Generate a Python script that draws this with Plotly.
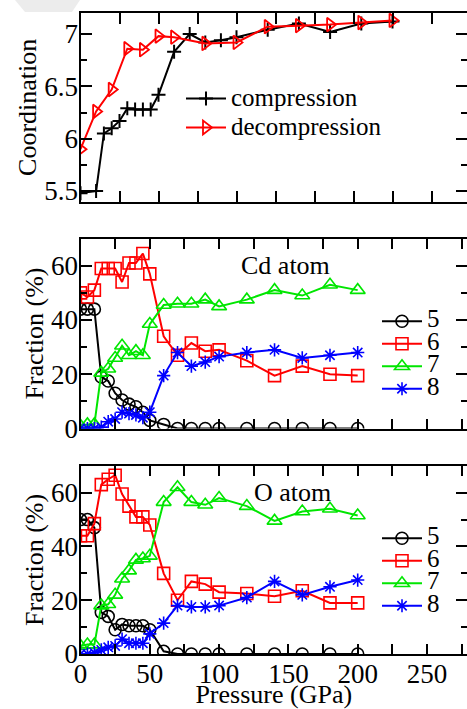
import plotly.graph_objects as go

# ---------------- data ----------------
pressure = [0, 5, 10, 15, 20, 25, 30, 35, 40, 45, 50, 60, 70, 80, 90, 100, 120, 140, 160, 180, 200]

p_compression = [0, 10, 15, 20, 25, 30, 35, 40, 45, 50, 60, 70, 80, 90, 100, 120, 140, 160, 180, 200]
coord_compression = [5.48, 5.50, 6.05, 6.10, 6.17, 6.29, 6.28, 6.28, 6.28, 6.42, 6.83, 7.00,
                     6.92, 6.94, 6.97, 7.04, 7.10, 7.02, 7.10, 7.12]
p_decompression = [0, 10, 20, 30, 40, 50, 60, 80, 100, 120, 140, 160, 180, 200]
coord_decompression = [5.90, 6.26, 6.47, 6.86, 6.85, 6.98, 6.97, 6.91, 6.92, 7.07, 7.08, 7.09, 7.11, 7.13]

cd_5 = [44, 44, 44, 19, 17.5, 13, 10.5, 9, 8, 6, 3, 1.5, 0, 0, 0, 0, 0, 0, 0, 0, 0]
cd_6 = [50, 48.5, 51, 59, 59, 59, 54, 61, 61, 64.5, 57, 34, 27, 31.5, 28.5, 29, 25, 19.5, 23, 20, 19.5]
cd_7 = [1, 1.5, 1.5, 20.5, 22, 26, 30.5, 27, 28.5, 27, 38.5, 45.5, 46, 46, 47.5, 45, 47.5, 51, 49, 53, 51]
cd_8 = [0, 0, 0, 0.5, 2.5, 3.5, 6, 5.5, 5, 4, 6, 19.5, 28, 23, 24.5, 26.5, 28, 29, 26, 27, 28]

o_5 = [50, 50, 47, 15.5, 14, 9, 11, 10.5, 10.5, 10.5, 9, 1, 0, 0, 0, 0, 0, 0, 0, 0, 0]
o_6 = [44, 44, 48.5, 63, 65, 66.5, 59.5, 55, 51, 51, 48, 30, 20, 27, 26, 23, 22.5, 21.5, 23.5, 19, 19]
o_7 = [3, 3.5, 3.5, 18, 18.5, 22, 28, 31, 35, 35.5, 36.5, 56.5, 62, 56.5, 55.5, 58, 55, 49.5, 53, 54, 51.5]
o_8 = [0, 0, 0.5, 1.5, 2.5, 3, 5.5, 4, 4, 4, 7.5, 11.5, 18, 17.5, 17.5, 18, 21, 27, 22, 25, 27.5]

coordination_labels = ["5", "6", "7", "8"]
x_ticks = [0, 50, 100, 150, 200, 250]
x_ticklabels = ["0", "50", "100", "150", "200", "250"]

# ---------------- layout helpers ----------------
W, H = 467, 709
FONT = "Liberation Serif"


def px_x(x):
    return x / W


def px_y(y):
    return 1 - y / H


fig = go.Figure()

# top panel
fig.add_trace(go.Scatter(
    x=p_compression, y=coord_compression, mode="lines+markers",
    name="<span style='font-size:25px'>compression</span>",
    line=dict(color="black", width=2),
    marker=dict(symbol="cross-thin-open", size=10, line=dict(color="black", width=2)),
    xaxis="x", yaxis="y", legend="legend"))
fig.add_trace(go.Scatter(
    x=p_decompression, y=coord_decompression, mode="lines+markers",
    name="<span style='font-size:25px'>decompression</span>",
    line=dict(color="#ff0000", width=2),
    marker=dict(symbol="triangle-right-open", size=12, color="#ff0000", line=dict(color="#ff0000", width=1.8)),
    xaxis="x", yaxis="y", legend="legend"))

styles = [
    dict(color="black", symbol="circle-open", size=12),
    dict(color="#ff0000", symbol="square-open", size=12),
    dict(color="#00e600", symbol="triangle-up-open", size=13),
    dict(color="#0000ff", symbol="asterisk-open", size=11),
]

for series, xa, ya, lg in [([cd_5, cd_6, cd_7, cd_8], "x2", "y2", "legend2"),
                           ([o_5, o_6, o_7, o_8], "x3", "y3", "legend3")]:
    for vals, lab, st in zip(series, coordination_labels, styles):
        fig.add_trace(go.Scatter(
            x=pressure, y=vals, mode="lines+markers",
            name="<span style='font-size:25px'>%s</span>" % lab,
            line=dict(color=st["color"], width=2),
            marker=dict(symbol=st["symbol"], size=st["size"], color=st["color"],
                        line=dict(color=st["color"], width=1.6)),
            xaxis=xa, yaxis=ya, legend=lg))

axis_common = dict(showline=True, linecolor="black", linewidth=2, mirror="ticks",
                   ticks="inside", tickcolor="black", tickwidth=2, showgrid=False,
                   zeroline=False, automargin=False,
                   tickfont=dict(family=FONT, size=27, color="black"))

minor_y = dict(ticks="inside", ticklen=6, tickcolor="black", tickwidth=2)
minor_x = dict(ticks="inside", dtick=25, ticklen=10, tickcolor="black", tickwidth=2)

x_left = px_x(80.5)
title_font = dict(family=FONT, size=26, color="black")

fig.update_layout(
    template="none",
    width=W, height=H,
    margin=dict(l=0, r=0, t=0, b=0, autoexpand=False),
    paper_bgcolor="white", plot_bgcolor="white",
    font=dict(family=FONT, color="black"),
    xaxis=dict(domain=[x_left, 1.0], range=[0, (W - 80.5) / 1.56], anchor="y",
               dtick=25, ticklen=11, showticklabels=False, **axis_common),
    yaxis=dict(domain=[px_y(201.5), px_y(13.1)], range=[5.4, 7.2], anchor="x",
               dtick=0.5, ticklen=11, ticklabelstandoff=-5,
               minor=dict(dtick=0.25, **minor_y),
               title=dict(text="Coordination", font=title_font, standoff=0),
               **axis_common),
    xaxis2=dict(domain=[x_left, 1.0], range=[0, (W - 80.5) / 1.386], anchor="y2",
                tickvals=x_ticks, ticktext=x_ticklabels, ticklen=10, showticklabels=False,
                minor=minor_x, **axis_common),
    yaxis2=dict(domain=[px_y(428.5), px_y(238.6)], range=[0, 70], anchor="x2",
                dtick=20, ticklen=11, ticklabelstandoff=-5,
                minor=dict(dtick=10, **minor_y),
                title=dict(text="Fraction (%)", font=title_font, standoff=0),
                **axis_common),
    xaxis3=dict(domain=[x_left, 1.0], range=[0, (W - 80.5) / 1.386], anchor="y3",
                tickvals=x_ticks, ticktext=x_ticklabels, ticklen=10, ticklabelstandoff=-5,
                minor=minor_x,
                title=dict(text="Pressure (GPa)", font=title_font, standoff=7),
                **axis_common),
    yaxis3=dict(domain=[px_y(654), px_y(465.8)], range=[0, 70], anchor="x3",
                dtick=20, ticklen=11, ticklabelstandoff=-5,
                minor=dict(dtick=10, **minor_y),
                title=dict(text="Fraction (%)", font=title_font, standoff=0),
                **axis_common),
    legend=dict(x=px_x(181), y=px_y(79), xanchor="left", yanchor="top",
                bgcolor="rgba(0,0,0,0)", borderwidth=0, itemwidth=40,
                font=dict(family=FONT, size=20, color="black"), tracegroupgap=0),
    legend2=dict(x=px_x(377), y=px_y(305), xanchor="left", yanchor="top",
                 bgcolor="rgba(0,0,0,0)", borderwidth=0, itemwidth=40,
                 font=dict(family=FONT, size=15, color="black"), tracegroupgap=0),
    legend3=dict(x=px_x(377), y=px_y(522), xanchor="left", yanchor="top",
                 bgcolor="rgba(0,0,0,0)", borderwidth=0, itemwidth=40,
                 font=dict(family=FONT, size=15, color="black"), tracegroupgap=0),
    annotations=[
        dict(text="Cd atom", x=px_x(285), y=px_y(265), xref="paper", yref="paper",
             showarrow=False, font=title_font),
        dict(text="O atom", x=px_x(292), y=px_y(509), xref="paper", yref="paper",
             showarrow=False, font=title_font),
    ],
    shapes=[
        dict(type="path", xref="paper", yref="paper", layer="below",
             path="M %f,%f L %f,%f L %f,%f L %f,%f Z" % (
                 px_x(15), 1.0, px_x(80), 1.0, px_x(72), px_y(12), px_x(25), px_y(12)),
             fillcolor="#ececec", line=dict(width=0)),
    ],
)

fig.write_html("out.html", config={"displayModeBar": False},
               post_script="document.body.style.margin='0';document.body.style.overflow='hidden';")
